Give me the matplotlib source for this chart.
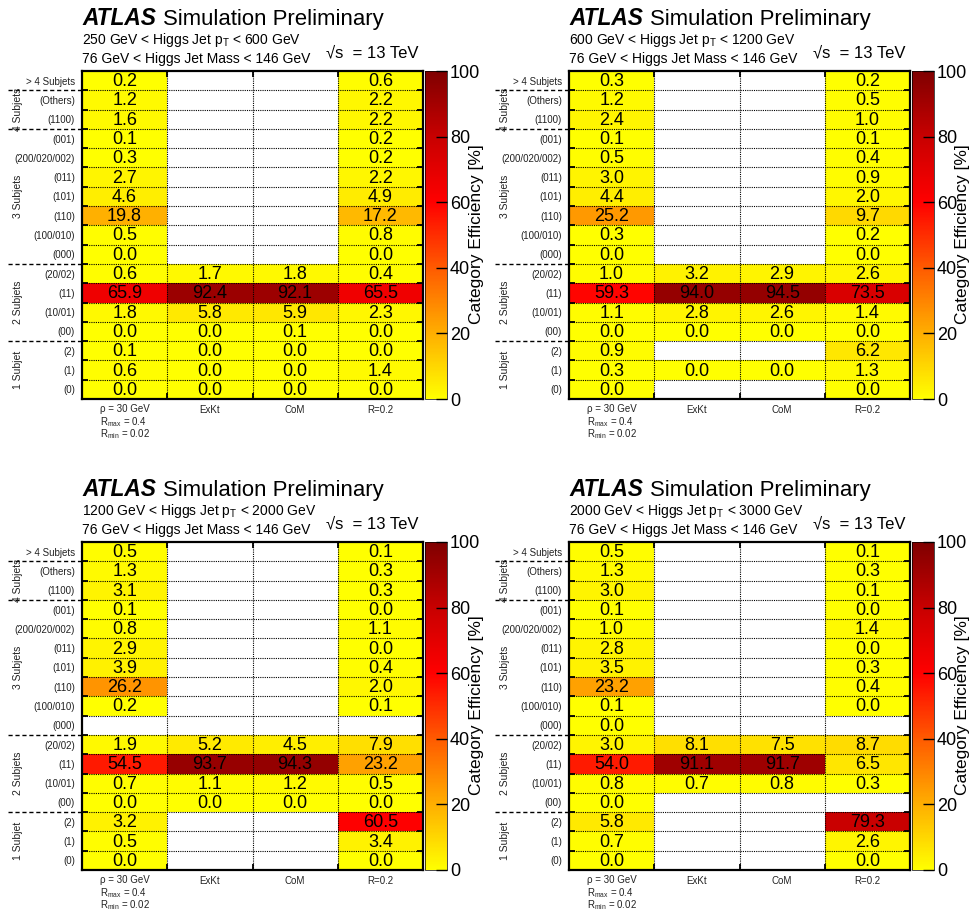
import numpy as np
import matplotlib.pyplot as plt
from matplotlib.colors import LinearSegmentedColormap
from matplotlib.transforms import blended_transform_factory

plt.rcParams['font.family'] = ['Liberation Sans', 'DejaVu Sans']
plt.rcParams['mathtext.fontset'] = 'custom'
plt.rcParams['mathtext.rm'] = 'Liberation Sans'
plt.rcParams['mathtext.it'] = 'Liberation Sans:italic'

W, H = 974, 914
n = np.nan

row_labels = ['> 4 Subjets', '(Others)', '(1100)', '(001)', '(200/020/002)', '(011)',
              '(101)', '(110)', '(100/010)', '(000)', '(20/02)', '(11)', '(10/01)',
              '(00)', '(2)', '(1)', '(0)']
col_labels = ['', 'ExKt', 'CoM', 'R=0.2']
groups = [('4 Subjets', 1, 3), ('3 Subjets', 3, 10), ('2 Subjets', 10, 14), ('1 Subjet', 14, 17)]
group_edges = [1, 3, 10, 14]

pt_labels = ['250 GeV < Higgs Jet p$_\\mathrm{T}$ < 600 GeV',
             '600 GeV < Higgs Jet p$_\\mathrm{T}$ < 1200 GeV',
             '1200 GeV < Higgs Jet p$_\\mathrm{T}$ < 2000 GeV',
             '2000 GeV < Higgs Jet p$_\\mathrm{T}$ < 3000 GeV']

# columns: rho = 30 GeV, ExKt, CoM, R=0.2 (rows top to bottom)
pt250_rho = [0.2, 1.2, 1.6, 0.1, 0.3, 2.7, 4.6, 19.8, 0.5, 0.0, 0.6, 65.9, 1.8, 0.0, 0.1, 0.6, 0.0]
pt250_exkt = [n, n, n, n, n, n, n, n, n, n, 1.7, 92.4, 5.8, 0.0, 0.0, 0.0, 0.0]
pt250_com = [n, n, n, n, n, n, n, n, n, n, 1.8, 92.1, 5.9, 0.1, 0.0, 0.0, 0.0]
pt250_r02 = [0.6, 2.2, 2.2, 0.2, 0.2, 2.2, 4.9, 17.2, 0.8, 0.0, 0.4, 65.5, 2.3, 0.0, 0.0, 1.4, 0.0]

pt600_rho = [0.3, 1.2, 2.4, 0.1, 0.5, 3.0, 4.4, 25.2, 0.3, 0.0, 1.0, 59.3, 1.1, 0.0, 0.9, 0.3, 0.0]
pt600_exkt = [n, n, n, n, n, n, n, n, n, n, 3.2, 94.0, 2.8, 0.0, n, 0.0, n]
pt600_com = [n, n, n, n, n, n, n, n, n, n, 2.9, 94.5, 2.6, 0.0, n, 0.0, n]
pt600_r02 = [0.2, 0.5, 1.0, 0.1, 0.4, 0.9, 2.0, 9.7, 0.2, 0.0, 2.6, 73.5, 1.4, 0.0, 6.2, 1.3, 0.0]

pt1200_rho = [0.5, 1.3, 3.1, 0.1, 0.8, 2.9, 3.9, 26.2, 0.2, n, 1.9, 54.5, 0.7, 0.0, 3.2, 0.5, 0.0]
pt1200_exkt = [n, n, n, n, n, n, n, n, n, n, 5.2, 93.7, 1.1, 0.0, n, n, n]
pt1200_com = [n, n, n, n, n, n, n, n, n, n, 4.5, 94.3, 1.2, 0.0, n, n, n]
pt1200_r02 = [0.1, 0.3, 0.3, 0.0, 1.1, 0.0, 0.4, 2.0, 0.1, n, 7.9, 23.2, 0.5, 0.0, 60.5, 3.4, 0.0]

pt2000_rho = [0.5, 1.3, 3.0, 0.1, 1.0, 2.8, 3.5, 23.2, 0.1, 0.0, 3.0, 54.0, 0.8, 0.0, 5.8, 0.7, 0.0]
pt2000_exkt = [n, n, n, n, n, n, n, n, n, n, 8.1, 91.1, 0.7, n, n, n, n]
pt2000_com = [n, n, n, n, n, n, n, n, n, n, 7.5, 91.7, 0.8, n, n, n, n]
pt2000_r02 = [0.1, 0.3, 0.1, 0.0, 1.4, 0.0, 0.3, 0.4, 0.0, n, 8.7, 6.5, 0.3, n, 79.3, 2.6, 0.0]

panels = [
    (pt_labels[0], [pt250_rho, pt250_exkt, pt250_com, pt250_r02], 0, 0),
    (pt_labels[1], [pt600_rho, pt600_exkt, pt600_com, pt600_r02], 487, 0),
    (pt_labels[2], [pt1200_rho, pt1200_exkt, pt1200_com, pt1200_r02], 0, 471),
    (pt_labels[3], [pt2000_rho, pt2000_exkt, pt2000_com, pt2000_r02], 487, 471),
]

cmap = LinearSegmentedColormap.from_list('eff', [
    (0.0, '#ffff00'), (0.2, '#ffae00'), (0.4, '#ff5a00'),
    (0.6, '#ff0000'), (0.8, '#c80000'), (1.0, '#800000')])


def rect(x, y, w, h):
    return [x / W, 1 - (y + h) / H, w / W, h / H]


fig = plt.figure(figsize=(W / 100, H / 100), dpi=100)

for pt_label, cols, dx, dy in panels:
    Z = np.ma.masked_invalid(np.array(cols).T)
    ax = fig.add_axes(rect(82 + dx, 71 + dy, 341, 328))
    mesh = ax.pcolormesh(np.arange(5), np.arange(18), Z, cmap=cmap, vmin=0, vmax=100)
    ax.set_xlim(0, 4)
    ax.set_ylim(17, 0)

    for i in range(Z.shape[0]):
        for j in range(Z.shape[1]):
            if not Z.mask[i, j]:
                ax.text(j + 0.5, i + 0.55, '%.1f' % Z[i, j], ha='center', va='center',
                        fontsize=13)

    for i in range(1, 17):
        ax.axhline(i, color='k', lw=0.8, ls=(0, (1, 1)))
    for j in range(1, 4):
        ax.axvline(j, color='k', lw=0.8, ls=(0, (1, 1)))

    ax.set_yticks(np.arange(17) + 0.5)
    ax.set_yticklabels(row_labels, fontsize=7, color='#222222')
    ax.set_yticks(np.arange(1, 17), minor=True)
    ax.set_xticks(np.arange(4) + 0.5)
    ax.set_xticklabels(col_labels, fontsize=7, color='#222222')
    ax.set_xticks(np.arange(1, 4), minor=True)
    ax.tick_params(which='major', length=0)
    ax.tick_params(axis='y', which='major', pad=5)
    ax.tick_params(axis='x', which='major', pad=4)
    ax.tick_params(which='minor', direction='in', length=4, width=1.3,
                   left=True, right=True, top=True, bottom=True)
    for s in ax.spines.values():
        s.set_linewidth(1.6)

    tr = blended_transform_factory(ax.transAxes, ax.transData)
    for name, a, b in groups:
        ax.text(-0.188, (a + b) / 2, name, rotation=90, ha='center', va='center',
                fontsize=7.5, color='#222222', transform=tr)
    for e in group_edges:
        ax.plot([-0.217, 0], [e, e], color='k', lw=1, ls=(0, (3, 2)),
                transform=tr, clip_on=False)

    ax.text(0.5, -0.014, '\u03c1 = 30 GeV', ha='center', va='top', fontsize=7,
            color='#222222', transform=blended_transform_factory(ax.transData, ax.transAxes))
    ax.text(18 / 341, -0.049, 'R$_\\mathrm{max}$ = 0.4', ha='left', va='top', fontsize=7,
            color='#222222', transform=ax.transAxes)
    ax.text(18 / 341, -0.087, 'R$_\\mathrm{min}$ = 0.02', ha='left', va='top', fontsize=7,
            color='#222222', transform=ax.transAxes)

    cax = fig.add_axes(rect(425 + dx, 71 + dy, 22, 328))
    cb = fig.colorbar(mesh, cax=cax, ticks=[0, 20, 40, 60, 80, 100])
    cb.outline.set_linewidth(0.5)
    cb.ax.tick_params(direction='in', length=8, width=1, labelsize=13, pad=2)
    fig.text((476 + dx) / W, 1 - (234 + dy) / H, 'Category Efficiency [%]', fontsize=12.5,
             rotation=90, ha='center', va='center')

    fig.text((82 + dx) / W, 1 - (25 + dy) / H, 'ATLAS', fontsize=16.4,
             fontweight='bold', fontstyle='italic', va='baseline')
    fig.text((163 + dx) / W, 1 - (25 + dy) / H, 'Simulation Preliminary', fontsize=15.9,
             va='baseline')
    fig.text((82 + dx) / W, 1 - (44 + dy) / H, pt_label, fontsize=10, va='baseline')
    fig.text((82 + dx) / W, 1 - (63 + dy) / H, '76 GeV < Higgs Jet Mass < 146 GeV',
             fontsize=10, va='baseline')
    fig.text((326 + dx) / W, 1 - (57 + dy) / H, '\u221as  = 13 TeV', fontsize=12,
             va='baseline')

fig.savefig('out.png', dpi=100)
